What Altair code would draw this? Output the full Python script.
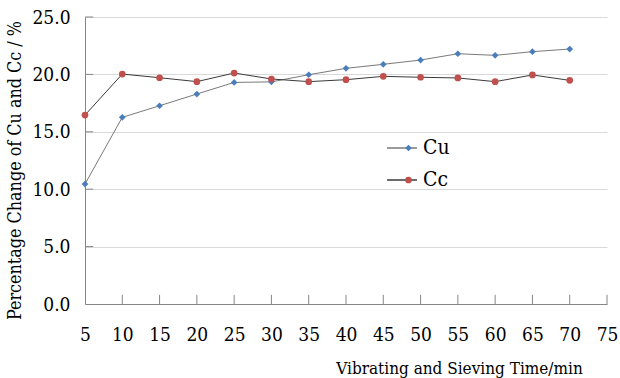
import altair as alt
import pandas as pd

time = [5, 10, 15, 20, 25, 30, 35, 40, 45, 50, 55, 60, 65, 70]
cu = [10.45, 16.26, 17.27, 18.29, 19.30, 19.35, 19.97, 20.53, 20.88, 21.25, 21.80, 21.66, 21.98, 22.21]
cc = [16.46, 20.03, 19.71, 19.37, 20.12, 19.60, 19.37, 19.54, 19.83, 19.75, 19.69, 19.37, 19.95, 19.48]
series = ["Cu", "Cc"]
x_ticks = list(range(5, 80, 5))
y_ticks = [0, 5, 10, 15, 20, 25]

rows = []
for t, u, c in zip(time, cu, cc):
    rows.append({"time": t, "value": u, "series": "Cu", "line": "Cu"})
    rows.append({"time": t, "value": c, "series": "Cc", "line": "Cc"})
df = pd.DataFrame(rows)

FONT = "DejaVu Serif Condensed"
AXIS_COLOR = "#868686"

xscale = alt.Scale(domain=[5, 75], nice=False, zero=False)
yscale = alt.Scale(domain=[0, 25], nice=False)

x_axis = alt.Axis(
    values=x_ticks, grid=False, ticks=False, tickSize=0, domainColor=AXIS_COLOR,
    labelFont=FONT, labelFontSize=19, labelColor="black", labelPadding=21,
    labelOverlap=False, labelFlush=False,
    title="Vibrating and Sieving Time/min", titleFont=FONT, titleFontSize=17,
    titleFontWeight="normal", titleColor="black", titleX=374, titleY=69,
    titleAlign="center", titleBaseline="alphabetic",
)
y_axis = alt.Axis(
    values=y_ticks, format=".1f", grid=True, gridColor="#d9d9d9", ticks=False, tickSize=0,
    domainColor=AXIS_COLOR, labelFont=FONT, labelFontSize=19, labelColor="black",
    labelPadding=15, labelOverlap=False, labelFlush=False,
    title="Percentage Change of Cu and Cc / %", titleFont=FONT, titleFontSize=17.8,
    titleFontWeight="normal", titleColor="black", titleX=-70, titleY=153,
    titleAngle=270, titleAlign="center", titleBaseline="middle",
)

X = alt.X("time:Q", scale=xscale, axis=x_axis)
Y = alt.Y("value:Q", scale=yscale, axis=y_axis)

lines = alt.Chart(df).mark_line(strokeWidth=1).encode(
    x=X, y=Y,
    stroke=alt.Stroke(
        "line:N", sort=series,
        scale=alt.Scale(range=["#7a7a7a", "#3a3a3a"]),
        legend=alt.Legend(
            title=None, orient="none", legendX=301, legendY=120, padding=0,
            symbolType="stroke", symbolSize=900, symbolStrokeWidth=1.3,
            symbolStrokeColor="#808080",
            labelFont=FONT, labelFontSize=21, labelColor="black",
            labelOffset=5, clipHeight=22, rowPadding=10,
        ),
    ),
)

pt_legend = alt.Legend(
    title=None, orient="none", legendX=301, legendY=120, padding=0,
    symbolSize=45, symbolOffset=12, symbolStrokeWidth=0,
    labelFont=FONT, labelFontSize=21, labelExpr="''",
    labelOffset=5, clipHeight=22, rowPadding=10,
)
points = alt.Chart(df).mark_point(filled=True, opacity=1, size=45).encode(
    x=X, y=Y,
    fill=alt.Fill("series:N", scale=alt.Scale(domain=series, range=["#4a7ebb", "#c0504d"]), legend=pt_legend),
    shape=alt.Shape("series:N", scale=alt.Scale(domain=series, range=["diamond", "circle"]), legend=pt_legend),
)

xt = pd.DataFrame({"t": x_ticks[1:], "y0": [0] * (len(x_ticks) - 1), "y1": [0.8] * (len(x_ticks) - 1)})
xtick_rules = alt.Chart(xt).mark_rule(color=AXIS_COLOR, strokeWidth=1).encode(
    x=alt.X("t:Q", scale=xscale, axis=x_axis), y=alt.Y("y0:Q", scale=yscale, axis=y_axis), y2="y1:Q"
)
yt = pd.DataFrame({"v": y_ticks[1:], "x0": [5] * (len(y_ticks) - 1), "x1": [6.1] * (len(y_ticks) - 1)})
ytick_rules = alt.Chart(yt).mark_rule(color=AXIS_COLOR, strokeWidth=1).encode(
    y=alt.Y("v:Q", scale=yscale, axis=y_axis), x=alt.X("x0:Q", scale=xscale, axis=x_axis), x2="x1:Q"
)

chart = alt.layer(lines, points, xtick_rules, ytick_rules).properties(
    width=522, height=287,
    padding={"left": 85, "top": 17, "right": 13, "bottom": 74},
    autosize=alt.AutoSizeParams(type="none"),
    background="white",
).configure_view(stroke=None)

chart.save("out.html", embed_options={"renderer": "svg", "actions": False})
